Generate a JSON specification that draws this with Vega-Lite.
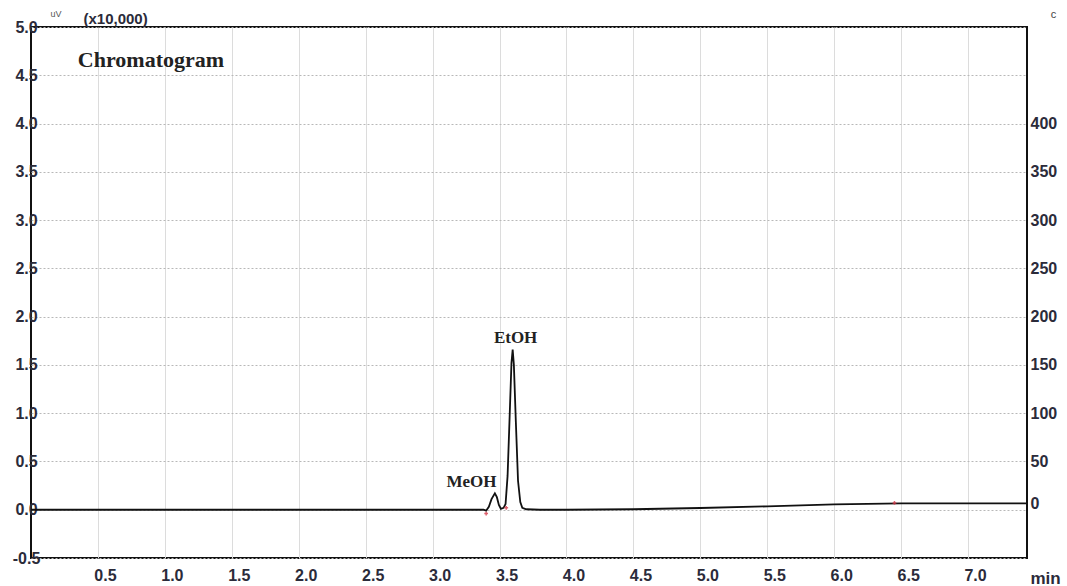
{
  "$schema": "https://vega.github.io/schema/vega-lite/v6.json",
  "autosize": "none",
  "width": 996,
  "height": 531,
  "padding": {"left": 31, "top": 27, "right": 40, "bottom": 28},
  "background": "white",
  "config": {
    "view": {"stroke": "#111", "strokeWidth": 2},
    "axis": {"labelFont": "Liberation Sans", "labelFontWeight": "bold", "labelFontSize": 16, "labelColor": "#2b2b3a", "labelFlush": false, "labelOverlap": false, "domain": false, "ticks": false}
  },
  "layer": [
    {
      "data": {"values": [
        {"t": 0.0, "v": 0.0}, {"t": 1.0, "v": 0.0}, {"t": 2.0, "v": 0.0}, {"t": 3.0, "v": 0.0},
        {"t": 3.38, "v": 0.0}, {"t": 3.40, "v": -0.01}, {"t": 3.42, "v": 0.03}, {"t": 3.44, "v": 0.11},
        {"t": 3.465, "v": 0.17}, {"t": 3.48, "v": 0.13}, {"t": 3.495, "v": 0.05}, {"t": 3.51, "v": 0.01},
        {"t": 3.53, "v": 0.02}, {"t": 3.545, "v": 0.06}, {"t": 3.56, "v": 0.35}, {"t": 3.575, "v": 0.95},
        {"t": 3.589, "v": 1.52}, {"t": 3.598, "v": 1.66}, {"t": 3.607, "v": 1.5}, {"t": 3.622, "v": 0.9},
        {"t": 3.638, "v": 0.3}, {"t": 3.655, "v": 0.08}, {"t": 3.67, "v": 0.02}, {"t": 3.70, "v": 0.005},
        {"t": 3.8, "v": 0.0}, {"t": 4.0, "v": 0.0}, {"t": 4.5, "v": 0.005}, {"t": 5.0, "v": 0.018},
        {"t": 5.5, "v": 0.035}, {"t": 6.0, "v": 0.055}, {"t": 6.5, "v": 0.065}, {"t": 7.0, "v": 0.065}, {"t": 7.44, "v": 0.065}
      ]},
      "mark": {"type": "line", "color": "#111", "strokeWidth": 1.8},
      "encoding": {
        "x": {"field": "t", "type": "quantitative", "scale": {"domain": [0, 7.44], "nice": false, "zero": false},
          "axis": {"values": [0.5,1.0,1.5,2.0,2.5,3.0,3.5,4.0,4.5,5.0,5.5,6.0,6.5,7.0], "format": ".1f", "labelOffset": 7, "labelPadding": 9,
            "grid": true, "gridColor": "#dcdcdc", "gridWidth": 1,
            "title": "min", "titleFont": "Liberation Sans", "titleFontSize": 17, "titleFontWeight": "bold", "titleColor": "#2b2b3a",
            "titleAnchor": "start", "titleAlign": "left", "titleBaseline": "middle", "titleX": 999, "titleY": 20}},
        "y": {"field": "v", "type": "quantitative", "scale": {"domain": [-0.5, 5.0], "nice": false, "zero": false},
          "axis": {"values": [-0.5,0.0,0.5,1.0,1.5,2.0,2.5,3.0,3.5,4.0,4.5,5.0],
            "labelExpr": "replace(format(datum.value, '.1f'), '−', '-')",
            "labelAlign": "center", "labelBaseline": "middle", "labelPadding": 5,
            "grid": true, "gridColor": "#b8b8b8", "gridDash": [2, 2], "gridWidth": 1,
            "title": "(x10,000)", "titleAngle": 0, "titleAlign": "left", "titleBaseline": "bottom",
            "titleX": 52, "titleY": -1, "titleFont": "Liberation Sans", "titleFontSize": 15, "titleFontWeight": "bold", "titleColor": "#2b2b3a"}}
      }
    },
    {
      "data": {"values": [
        {"t": 3.29, "v": 0.285, "label": "MeOH"},
        {"t": 3.62, "v": 1.78, "label": "EtOH"}
      ]},
      "mark": {"type": "text", "font": "Liberation Serif", "fontWeight": "bold", "fontSize": 17, "color": "#222", "align": "center", "baseline": "middle"},
      "encoding": {
        "x": {"field": "t", "type": "quantitative"},
        "y": {"field": "v", "type": "quantitative",
          "axis": {"orient": "right", "values": [0,0.5,1.0,1.5,2.0,2.5,3.0,3.5,4.0],
            "labelExpr": "format(datum.value * 100, 'd')", "labelAlign": "left", "labelBaseline": "middle", "labelPadding": 3,
            "labelOffset": {"condition": {"test": "datum.value === 0", "value": -6}, "value": 0},
            "grid": false, "title": "c", "titleAngle": 0, "titleAlign": "center", "titleBaseline": "middle",
            "titleX": 26, "titleY": -13, "titleFont": "Liberation Sans", "titleFontSize": 11, "titleFontWeight": "normal", "titleColor": "#444"}},
        "text": {"field": "label"}
      }
    },
    {
      "data": {"values": [{"t": 0.35, "v": 4.66, "label": "Chromatogram"}]},
      "mark": {"type": "text", "font": "Liberation Serif", "fontWeight": "bold", "fontSize": 22, "color": "#222", "align": "left", "baseline": "middle"},
      "encoding": {
        "x": {"field": "t", "type": "quantitative"},
        "y": {"field": "v", "type": "quantitative", "axis": null},
        "text": {"field": "label"}
      }
    },
    {
      "data": {"values": [{"t": 0.145, "v": 5.13, "label": "uV"}]},
      "mark": {"type": "text", "font": "Liberation Sans", "fontSize": 9, "color": "#555", "align": "left", "baseline": "middle"},
      "encoding": {
        "x": {"field": "t", "type": "quantitative"},
        "y": {"field": "v", "type": "quantitative", "axis": null},
        "text": {"field": "label"}
      }
    },
    {
      "data": {"values": [{"t": 3.40, "v": -0.04}, {"t": 3.55, "v": 0.02}, {"t": 6.45, "v": 0.07}]},
      "mark": {"type": "point", "shape": "cross", "size": 14, "filled": true, "color": "#d43a4a", "opacity": 0.8},
      "encoding": {
        "x": {"field": "t", "type": "quantitative"},
        "y": {"field": "v", "type": "quantitative", "axis": null}
      }
    }
  ],
  "resolve": {"axis": {"y": "independent"}}
}
